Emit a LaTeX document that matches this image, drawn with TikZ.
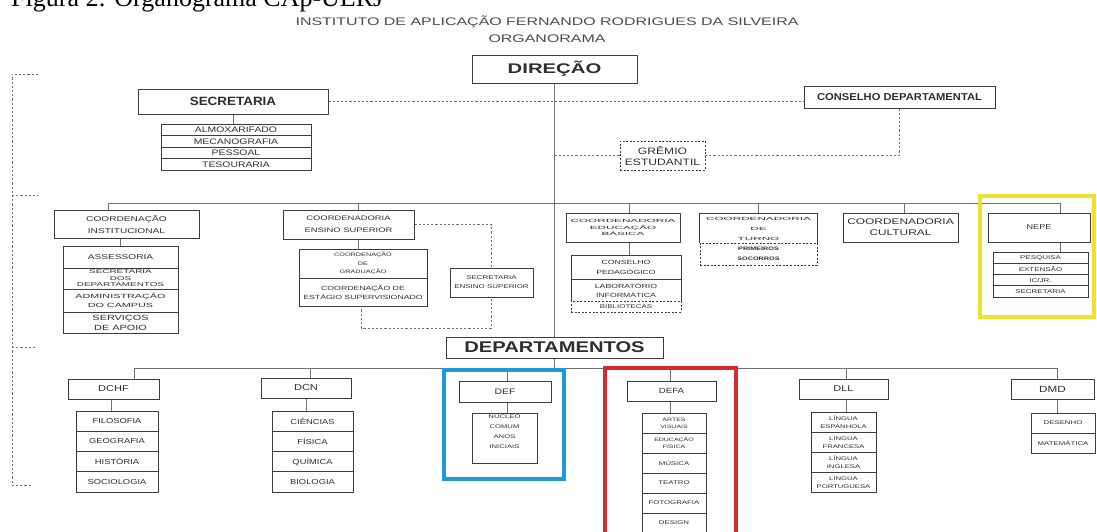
\documentclass[tikz,border=0pt]{standalone}
\usepackage{fontspec}
\setmainfont{Liberation Sans}
\newfontfamily\fA[FakeStretch=1.45]{Liberation Sans}
\newfontfamily\fB[FakeStretch=1.3]{Liberation Sans}
\newfontfamily\fC[FakeStretch=1.12]{Liberation Sans}
\newfontfamily\fD[FakeStretch=1.8]{Liberation Sans}
\newfontfamily\fE[FakeStretch=2.6]{Liberation Sans}
\newfontfamily\capf{Liberation Serif}
\newcommand\fsz[2]{\fontsize{#1}{#2}\selectfont}
\usetikzlibrary{backgrounds}
\definecolor{boxc}{HTML}{3C3C3C}
\definecolor{linec}{HTML}{707070}
\definecolor{txtc}{HTML}{2E2E2E}
\definecolor{hdrc}{HTML}{4A4A4A}
\definecolor{hlY}{HTML}{F2E12A}
\definecolor{hlB}{HTML}{1E9BD7}
\definecolor{hlR}{HTML}{D42B2B}
\begin{document}
\begin{tikzpicture}[x=1pt,y=-1pt,
  wh/.style 2 args={minimum width=#1pt, minimum height=#2pt},
  bx/.style={draw=boxc, line width=0.7pt, fill=white, inner sep=0pt, align=center, text=txtc},
  dbx/.style={bx, dash pattern=on 2pt off 1.6pt},
  lbl/.style={inner sep=0pt, align=center, text=txtc},
  ln/.style={draw=linec, line width=0.75pt},
  dln/.style={draw=linec, line width=0.8pt, dash pattern=on 2.2pt off 2pt},
  hl/.style={line width=#1pt}]
\useasboundingbox (0,0) rectangle (1097,532);

% ---------- titles
\node[lbl, text=black, font=\capf\fsz{26}{30}, anchor=base west] (cap) at (11,7) {Figura 2: Organograma CAp-UERJ};
\node[lbl, text=hdrc, font=\fA\fsz{11}{13}, anchor=base] (inst) at (547,26) {INSTITUTO DE APLICAÇÃO FERNANDO RODRIGUES DA SILVEIRA};
\node[lbl, text=hdrc, font=\fA\fsz{11}{13}, anchor=base] (org) at (547,43) {ORGANORAMA};

% ---------- top level
\node[bx, wh={165}{28}, font=\fA\bfseries\fsz{14}{16}] (dir) at (554.5,69) {DIREÇÃO};
\node[bx, wh={190}{25}, font=\fC\bfseries\fsz{12}{14}] (sec) at (233,101.5) {SECRETARIA};
\node[bx, wh={150}{11.5}, font=\fB\fsz{8}{9}] (s1) at (236,129.75) {ALMOXARIFADO};
\node[bx, wh={150}{11.5}, font=\fB\fsz{8}{9}] (s2) at (236,141.25) {MECANOGRAFIA};
\node[bx, wh={150}{11.5}, font=\fB\fsz{8}{9}] (s3) at (236,152.75) {PESSOAL};
\node[bx, wh={150}{11.5}, font=\fB\fsz{8}{9}] (s4) at (236,164.25) {TESOURARIA};
\node[bx, wh={191}{22}, font=\fC\bfseries\fsz{10}{12}] (cons) at (899.5,97) {CONSELHO DEPARTAMENTAL};
\node[dbx, wh={85}{29}, font=\fB\fsz{9.3}{11}] (grem) at (662.5,155.5) {GRÊMIO\\ESTUDANTIL};

% ---------- coordinations
\coordinate (bL) at (108,203);
\coordinate (bR) at (1060,203);
\coordinate (b2) at (358,203);
\coordinate (b3) at (629,203);
\coordinate (b5) at (904,203);

\node[bx, wh={145}{28}, font=\fA\fsz{7}{12}] (ci) at (126.5,224) {COORDENAÇÃO\\INSTITUCIONAL};
\node[bx, wh={115}{22}, font=\fA\fsz{7}{8}] (ci1) at (120.5,257) {ASSESSORIA};
\node[bx, wh={115}{21}, font=\fD\fsz{5.5}{6.5}] (ci2) at (120.5,278.5) {SECRETARIA\\DOS\\DEPARTAMENTOS};
\node[bx, wh={115}{23}, font=\fD\fsz{6}{9}] (ci3) at (120.5,300.5) {ADMINISTRAÇÃO\\DO CAMPUS};
\node[bx, wh={115}{21}, font=\fA\fsz{7.5}{10}] (ci4) at (120.5,322.5) {SERVIÇOS\\DE APOIO};

\node[bx, wh={131}{29}, font=\fA\fsz{6.5}{12}, text depth=-2pt] (ces) at (348.5,224.5) {COORDENADORIA\\ENSINO SUPERIOR};
\node[bx, wh={128}{29}, font=\fA\fsz{5}{8.5}] (ces1) at (363,263.5) {COORDENAÇÃO\\DE\\GRADUAÇÃO};
\node[bx, wh={128}{28}, font=\fA\fsz{6}{9}] (ces2) at (363,292) {COORDENAÇÃO DE\\ESTÁGIO SUPERVISIONADO};
\node[bx, wh={83}{29}, font=\fA\fsz{5.5}{9}] (sesup) at (491.5,282.5) {SECRETARIA\\ENSINO SUPERIOR};
\coordinate (esA) at (491.5,328);
\coordinate (esB) at (361,328);

\node[bx, wh={114}{29}, font=\fE\fsz{4.5}{6.5}] (ceb) at (623,227.5) {COORDENADORIA\\EDUCAÇÃO\\BÁSICA};
\node[bx, wh={110}{24}, font=\fA\fsz{6}{10}] (ceb1) at (626,267) {CONSELHO\\PEDAGÓGICO};
\node[bx, wh={110}{22}, font=\fA\fsz{6}{9}] (ceb2) at (626,290) {LABORATÓRIO\\INFORMÁTICA};
\node[dbx, wh={110}{11}, font=\fA\fsz{5.5}{6}] (ceb3) at (626,306.5) {BIBLIOTECAS};

\node[bx, draw=none, wh={117}{29}, font=\fE\fsz{4.5}{10}] (ct) at (758.5,228.5) {COORDENADORIA\\DE\\TURNO};
\draw[boxc, line width=0.7pt] (ct.south west) |- (ct.north east) -- (ct.south east);
\node[dbx, wh={117}{22}, font=\fA\bfseries\fsz{5}{10}] (ps) at (758.5,254) {PRIMEIROS\\SOCORROS};

\node[bx, wh={115}{29}, font=\fA\fsz{8.2}{11}] (cc) at (900.5,227.5) {COORDENADORIA\\CULTURAL};

\node[bx, wh={102}{29}, font=\fB\fsz{7}{8}] (nepe) at (1039,227.5) {NEPE};
\node[bx, wh={95}{11.25}, font=\fA\fsz{5.5}{6}] (n1) at (1040.5,257.6) {PESQUISA};
\node[bx, wh={95}{11.25}, font=\fA\fsz{5.5}{6}] (n2) at (1040.5,268.9) {EXTENSÃO};
\node[bx, wh={95}{11.25}, font=\fA\fsz{5.5}{6}] (n3) at (1040.5,280.1) {IC/JR.};
\node[bx, wh={95}{11.25}, font=\fA\fsz{5.5}{6}] (n4) at (1040.5,291.4) {SECRETARIA};

% ---------- departments
\node[bx, wh={217}{21}, font=\fB\bfseries\fsz{15.5}{17}] (dept) at (554.5,347.5) {DEPARTAMENTOS};
\coordinate (dL) at (134,368);
\coordinate (dR) at (1057,368);
\coordinate (d2) at (310,368);
\coordinate (d3) at (507,368);
\coordinate (d4) at (670,368);
\coordinate (d5) at (846,368);

\node[bx, wh={91}{20}, font=\fB\fsz{8.5}{10}] (dchf) at (113.5,389) {DCHF};
\node[bx, wh={82}{20.25}, font=\fB\fsz{7.2}{8}] (h1) at (117,421.1) {FILOSOFIA};
\node[bx, wh={82}{20.25}, font=\fB\fsz{7.2}{8}] (h2) at (117,441.4) {GEOGRAFIA};
\node[bx, wh={82}{20.25}, font=\fB\fsz{7.2}{8}] (h3) at (117,461.6) {HISTÓRIA};
\node[bx, wh={82}{20.25}, font=\fB\fsz{7.2}{8}] (h4) at (117,481.9) {SOCIOLOGIA};

\node[bx, wh={90}{20}, font=\fB\fsz{8.5}{10}] (dcn) at (306,388) {DCN};
\node[bx, wh={81}{20.25}, font=\fB\fsz{7.2}{8}] (c1) at (312.5,421.1) {CIÊNCIAS};
\node[bx, wh={81}{20.25}, font=\fB\fsz{7.2}{8}] (c2) at (312.5,441.4) {FÍSICA};
\node[bx, wh={81}{20.25}, font=\fB\fsz{7.2}{8}] (c3) at (312.5,461.6) {QUÍMICA};
\node[bx, wh={81}{20.25}, font=\fB\fsz{7.2}{8}] (c4) at (312.5,481.9) {BIOLOGIA};

\node[bx, wh={92}{21}, font=\fB\fsz{8}{10}] (def) at (505,391.5) {DEF};
\node[bx, wh={65}{50}] (defs) at (504.5,438) {};
\node[lbl, anchor=north, font=\fA\fsz{5.3}{9.8}] (defst) at (504.5,414) {NÚCLEO\\COMUM\\ANOS\\INICIAIS};

\node[bx, wh={89}{20}, font=\fB\fsz{7.5}{9}] (defa) at (671.5,391) {DEFA};
\node[bx, wh={64}{20}, font=\fA\fsz{4.8}{7}] (a1) at (674,423) {ARTES\\VISUAIS};
\node[bx, wh={64}{20}, font=\fA\fsz{4.8}{7}] (a2) at (674,443) {EDUCAÇÃO\\FÍSICA};
\node[bx, wh={64}{20}, font=\fA\fsz{5.4}{6}] (a3) at (674,463) {MÚSICA};
\node[bx, wh={64}{20}, font=\fA\fsz{5.4}{6}] (a4) at (674,483) {TEATRO};
\node[bx, wh={64}{20}, font=\fA\fsz{5.4}{6}] (a5) at (674,503) {FOTOGRAFIA};
\node[bx, wh={64}{20}, font=\fA\fsz{5.4}{6}] (a6) at (674,523) {DESIGN};

\node[bx, wh={89}{20}, font=\fB\fsz{8.4}{10}] (dll) at (843.5,389) {DLL};
\node[bx, wh={65}{20}, font=\fA\fsz{5.3}{8.5}] (l1) at (843.5,422) {LÍNGUA\\ESPANHOLA};
\node[bx, wh={65}{20}, font=\fA\fsz{5.3}{8.5}] (l2) at (843.5,442) {LÍNGUA\\FRANCESA};
\node[bx, wh={65}{20}, font=\fA\fsz{5.3}{8.5}] (l3) at (843.5,462) {LÍNGUA\\INGLESA};
\node[bx, wh={65}{20}, font=\fA\fsz{5.3}{8.5}] (l4) at (843.5,482) {LÍNGUA\\PORTUGUESA};

\node[bx, wh={83}{20}, font=\fB\fsz{9}{10}] (dmd) at (1052.5,389) {DMD};
\node[bx, wh={64}{20}, font=\fA\fsz{5.4}{6}] (m1) at (1063,423) {DESENHO};
\node[bx, wh={64}{20}, font=\fA\fsz{5.4}{6}] (m2) at (1063,443) {MATEMÁTICA};

% ---------- connectors (behind boxes)
\begin{scope}[on background layer]
  \draw[ln] (dir.south) -- (dept.north);
  \draw[ln] (sec.south) -- (sec.south |- s1.north);
  \draw[dln] (sec.east) -- (sec.east -| cons.west);
  \draw[dln] (grem.west) -- (grem.west -| dir.south);
  \draw[dln] (cons.south) |- (grem.east);
  % coordination bus
  \draw[ln] (bL) -- (bR);
  \draw[ln] (bL) -- (bL |- ci.north);
  \draw[ln] (ci1.north |- ci.south) -- (ci1.north);
  \draw[ln] (b2) -- (b2 |- ces.north);
  \draw[ln] (b2 |- ces.south) -- (b2 |- ces1.north);
  \draw[dln] (ces.east) -| (esA) -- (esB) -- (esB |- ces2.south);
  \draw[ln] (b3) -- (b3 |- ceb.north);
  \draw[ln] (b3 |- ceb.south) -- (b3 |- ceb1.north);
  \draw[ln] (ct.north |- bL) -- (ct.north);
  \draw[ln] (b5) -- (b5 |- cc.north);
  \draw[ln] (bR) -- (bR |- nepe.north);
  \draw[ln] (bR |- nepe.south) -- (bR |- n1.north);
  % department bus
  \draw[ln] (dept.south) -- (dept.south |- dL);
  \draw[ln] (dL) -- (dR);
  \draw[ln] (dL) -- (dL |- dchf.north);
  \draw[ln] ([xshift=-2.5pt]dchf.south) -- ([xshift=-2.5pt]dchf.south |- h1.north);
  \draw[ln] (d2) -- (d2 |- dcn.north);
  \draw[ln] (dcn.south) -- (dcn.south |- c1.north);
  \draw[ln] (d3) -- (d3 |- def.north);
  \draw[ln] (d3 |- def.south) -- (d3 |- defs.north);
  \draw[ln] (d4) -- (d4 |- defa.north);
  \draw[ln] (d4 |- defa.south) -- (d4 |- a1.north);
  \draw[ln] (d5) -- (d5 |- dll.north);
  \draw[ln] (d5 |- dll.south) -- (d5 |- l1.north);
  \draw[ln] (dR) -- (dR |- dmd.north);
  \draw[ln] (dR |- dmd.south) -- (dR |- m1.north);
\end{scope}

% ---------- left dashed bracket
\coordinate (k1) at (12,74);
\coordinate (k2) at (12,195);
\coordinate (k3) at (12,347);
\coordinate (k4) at (12,485);
\draw[dln] ([xshift=26pt]k1) -- (k1) -- (k4) -- ([xshift=20pt]k4);
\draw[dln] (k2) -- ([xshift=26pt]k2);
\draw[dln] (k3) -- ([xshift=23pt]k3);

% ---------- highlight frames
\draw[hlY, hl=4] (980,196) rectangle (1094,317);
\draw[hlB, hl=4] (444,370) rectangle (564,479);
\draw[hlR, hl=4.5] (605,368) rectangle (736,545);
\end{tikzpicture}
\end{document}
